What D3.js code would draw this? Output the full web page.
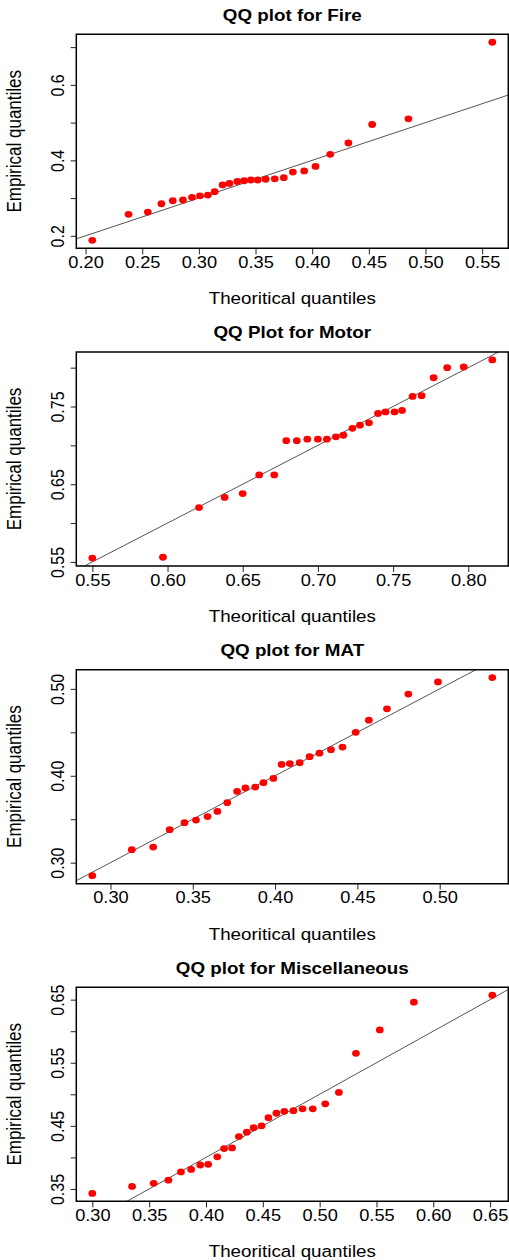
<!DOCTYPE html>
<html>
<head>
<meta charset="utf-8">
<script src="https://cdn.jsdelivr.net/npm/d3@7"></script>
<style>
  html, body { margin: 0; padding: 0; background: #ffffff; }
  svg { display: block; }
  text { font-family: "Liberation Sans", Arial, Helvetica, sans-serif; fill: #000; }
</style>
</head>
<body>
<script>
// ---------------- data ----------------
const titles = ["QQ plot for Fire", "QQ Plot for Motor", "QQ plot for MAT", "QQ plot for Miscellaneous"];
const xAxisLabel = "Theoritical quantiles";
const yAxisLabel = "Empirical quantiles";

const fireTheo = [0.206,0.238,0.255,0.267,0.277,0.286,0.294,0.301,0.308,0.314,0.321,0.327,0.334,0.340,0.346,0.352,0.359,0.367,0.375,0.383,0.393,0.403,0.416,0.432,0.453,0.485,0.559];
const fireEmp  = [0.188,0.257,0.263,0.285,0.293,0.295,0.302,0.306,0.308,0.317,0.335,0.339,0.344,0.346,0.348,0.348,0.350,0.351,0.354,0.369,0.372,0.384,0.416,0.446,0.495,0.510,0.713];

const motorTheo = [0.550,0.597,0.621,0.638,0.650,0.661,0.671,0.679,0.686,0.693,0.700,0.706,0.712,0.717,0.723,0.728,0.734,0.740,0.745,0.751,0.756,0.763,0.769,0.777,0.786,0.797,0.816];
const motorEmp  = [0.555,0.556,0.620,0.633,0.638,0.662,0.662,0.706,0.706,0.708,0.708,0.708,0.711,0.713,0.722,0.726,0.729,0.741,0.743,0.743,0.745,0.763,0.764,0.787,0.800,0.801,0.810];

const matTheo = [0.289,0.313,0.326,0.336,0.345,0.352,0.359,0.365,0.371,0.377,0.382,0.388,0.393,0.399,0.404,0.409,0.415,0.421,0.427,0.434,0.441,0.449,0.457,0.468,0.481,0.499,0.532];
const matEmp  = [0.285,0.315,0.318,0.338,0.346,0.349,0.353,0.359,0.369,0.382,0.386,0.387,0.392,0.397,0.413,0.414,0.415,0.422,0.426,0.430,0.433,0.450,0.464,0.477,0.494,0.508,0.513];

const miscTheo = [0.300,0.335,0.354,0.367,0.378,0.387,0.395,0.402,0.410,0.416,0.423,0.429,0.436,0.442,0.449,0.455,0.462,0.469,0.477,0.485,0.494,0.505,0.517,0.532,0.553,0.583,0.652];
const miscEmp  = [0.343,0.354,0.359,0.364,0.377,0.381,0.388,0.389,0.401,0.414,0.415,0.433,0.440,0.447,0.450,0.463,0.470,0.473,0.474,0.477,0.477,0.485,0.503,0.565,0.602,0.646,0.657];

const fireXTicks  = [0.20,0.25,0.30,0.35,0.40,0.45,0.50,0.55];
const fireXLabels = ["0.20","0.25","0.30","0.35","0.40","0.45","0.50","0.55"];
const fireYTicks  = [0.2,0.3,0.4,0.5,0.6,0.7];
const fireYLabels = ["0.2","","0.4","","0.6",""];

const motorXTicks  = [0.55,0.60,0.65,0.70,0.75,0.80];
const motorXLabels = ["0.55","0.60","0.65","0.70","0.75","0.80"];
const motorYTicks  = [0.55,0.60,0.65,0.70,0.75,0.80];
const motorYLabels = ["0.55","","0.65","","0.75",""];

const matXTicks  = [0.30,0.35,0.40,0.45,0.50];
const matXLabels = ["0.30","0.35","0.40","0.45","0.50"];
const matYTicks  = [0.30,0.35,0.40,0.45,0.50];
const matYLabels = ["0.30","","0.40","","0.50"];

const miscXTicks  = [0.30,0.35,0.40,0.45,0.50,0.55,0.60,0.65];
const miscXLabels = ["0.30","0.35","0.40","0.45","0.50","0.55","0.60","0.65"];
const miscYTicks  = [0.35,0.40,0.45,0.50,0.55,0.60,0.65];
const miscYLabels = ["0.35","","0.45","","0.55","","0.65"];

// ---------------- layout ----------------
const SX = 1.14;                 // horizontal stretch of the reference image
const W = 509 / SX, H = 1260;
const boxLeft = 76.3 / SX, boxRight = 508.3 / SX;
const panelTop0 = 34.3, panelStep = 317.67, panelH = 214;

const panels = [
  {title: titles[0], theo: fireTheo,  emp: fireEmp,  xt: fireXTicks,  xl: fireXLabels,  yt: fireYTicks,  yl: fireYLabels},
  {title: titles[1], theo: motorTheo, emp: motorEmp, xt: motorXTicks, xl: motorXLabels, yt: motorYTicks, yl: motorYLabels},
  {title: titles[2], theo: matTheo,   emp: matEmp,   xt: matXTicks,   xl: matXLabels,   yt: matYTicks,   yl: matYLabels},
  {title: titles[3], theo: miscTheo,  emp: miscEmp,  xt: miscXTicks,  xl: miscXLabels,  yt: miscYTicks,  yl: miscYLabels}
];

const svg = d3.select("body").append("svg")
  .attr("width", 509).attr("height", H)
  .attr("viewBox", `0 0 ${W} ${H}`)
  .attr("preserveAspectRatio", "none");

function rDomain(vals) {
  const [lo, hi] = d3.extent(vals);
  const pad = (hi - lo) * 0.04;
  return [lo - pad, hi + pad];
}

panels.forEach((p, i) => {
  const top = panelTop0 + i * panelStep;
  const bottom = top + panelH;
  const x = d3.scaleLinear().domain(rDomain(p.theo)).range([boxLeft, boxRight]);
  const y = d3.scaleLinear().domain(rDomain(p.emp)).range([bottom, top]);
  const g = svg.append("g");

  const clipId = "clip" + i;
  svg.append("clipPath").attr("id", clipId).append("rect")
    .attr("x", boxLeft).attr("y", top).attr("width", boxRight - boxLeft).attr("height", panelH);

  // reference line y = x
  const xd = x.domain(), yd = y.domain();
  const lo = Math.min(xd[0], yd[0]), hi = Math.max(xd[1], yd[1]);
  g.append("line")
    .attr("clip-path", `url(#${clipId})`)
    .attr("x1", x(lo)).attr("y1", y(lo)).attr("x2", x(hi)).attr("y2", y(hi))
    .attr("stroke", "#555").attr("stroke-width", 1)
    .attr("vector-effect", "non-scaling-stroke");

  // points
  g.append("g").selectAll("circle")
    .data(p.theo.map((t, k) => [t, p.emp[k]]))
    .join("circle")
    .attr("cx", d => x(d[0])).attr("cy", d => y(d[1]))
    .attr("r", 3.4).attr("fill", "#ff0000");

  // x axis
  const xa = g.append("g").attr("transform", `translate(0,${bottom})`)
    .call(d3.axisBottom(x).tickValues(p.xt).tickSize(6)
      .tickFormat((d, k) => p.xl[k]));
  xa.select(".domain").remove();
  xa.selectAll(".tick line").attr("stroke", "#222").attr("vector-effect", "non-scaling-stroke");
  xa.selectAll(".tick text").attr("y", 19.7).attr("dy", null)
    .attr("font-size", 16).attr("fill", "#000")
    .style("font-family", '"Liberation Sans", Arial, sans-serif');

  // y axis
  const ya = g.append("g").attr("transform", `translate(${boxLeft},0)`)
    .call(d3.axisLeft(y).tickValues(p.yt).tickSize(5.6 / SX)
      .tickFormat((d, k) => p.yl[k]));
  ya.select(".domain").remove();
  ya.selectAll(".tick line").attr("stroke", "#222").attr("vector-effect", "non-scaling-stroke");
  ya.selectAll(".tick text")
    .attr("x", null).attr("dy", null)
    .attr("text-anchor", "middle")
    .attr("transform", `translate(${-12.8 / SX},0) rotate(-90)`)
    .attr("font-size", 16).attr("fill", "#000")
    .style("font-family", '"Liberation Sans", Arial, sans-serif');

  // box
  g.append("rect")
    .attr("x", boxLeft).attr("y", top).attr("width", boxRight - boxLeft).attr("height", panelH)
    .attr("fill", "none").attr("stroke", "#000").attr("stroke-width", 1.5)
    .attr("vector-effect", "non-scaling-stroke");

  const cx = (boxLeft + boxRight) / 2;
  // title
  g.append("text").attr("x", cx).attr("y", top - 13.6)
    .attr("text-anchor", "middle").attr("font-size", 16.5).attr("font-weight", "bold")
    .text(p.title);
  // x label
  g.append("text").attr("x", cx).attr("y", bottom + 56)
    .attr("text-anchor", "middle").attr("font-size", 16.5)
    .text(xAxisLabel);
  // y label
  g.append("text")
    .attr("transform", `translate(${21 / SX},${(top + bottom) / 2}) rotate(-90)`)
    .attr("text-anchor", "middle").attr("font-size", 17)
    .text(yAxisLabel);
});
</script>
</body>
</html>
